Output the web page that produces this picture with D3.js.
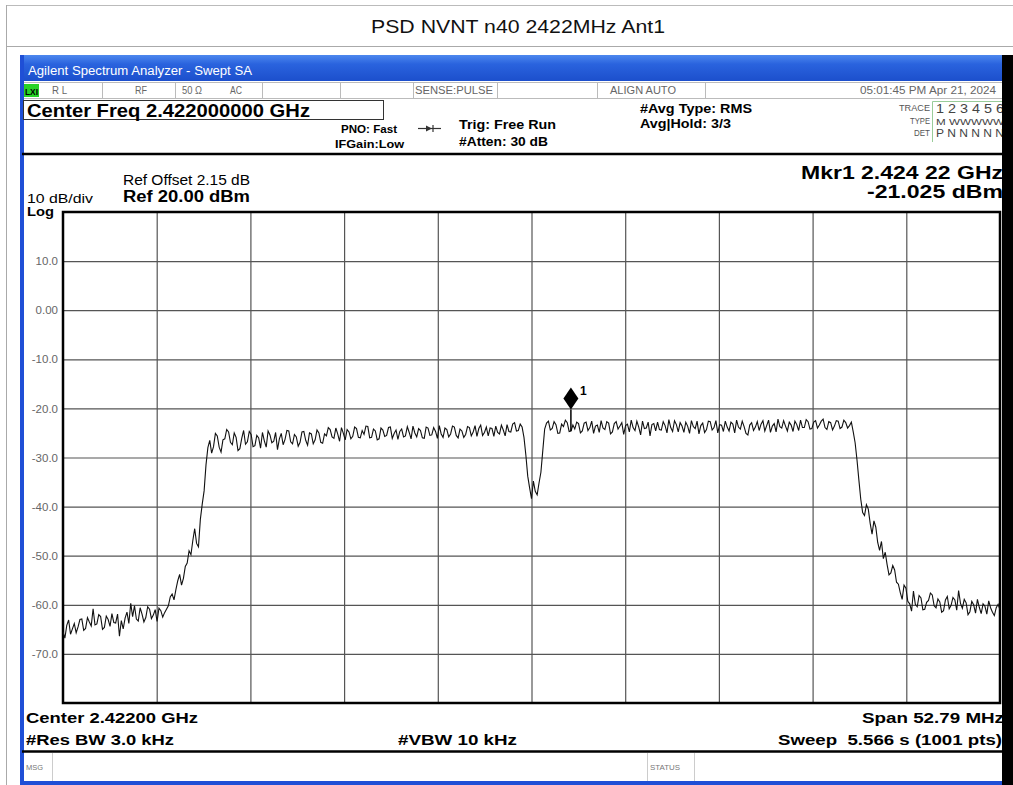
<!DOCTYPE html>
<html>
<head>
<meta charset="utf-8">
<script src="https://cdn.jsdelivr.net/npm/d3@7"></script>
<style>
body { margin: 0; background: #fff; }
svg { display: block; font-family: "Liberation Sans", Arial, sans-serif; }
text { white-space: pre; }
</style>
</head>
<body>
<script>
var W = 1013, H = 785;

//values
var chartTitle = "PSD NVNT n40 2422MHz Ant1";
var centerMHz = 2422, spanMHz = 52.79;
var refLevel = 20, dbPerDiv = 10, nDiv = 10;
var yTickValues = [10, 0, -10, -20, -30, -40, -50, -60, -70];
var yTickLabels = ["10.0", "0.00", "-10.0", "-20.0", "-30.0", "-40.0", "-50.0", "-60.0", "-70.0"];
var markerMHz = 2424.22, markerDbm = -21.025;

//trace 1, dBm, evenly spaced sweep points across the span
var psdDbm = [
  //noise floor, left
  -65.5,-66.8,-64.2,-63.1,-66.0,-64.9,-63.8,-65.7,-64.5,-63.0,-62.9,-65.2,-64.8,-62.6,-63.5,-64.3,-60.8,-64.1,-63.9,-62.0,
  -62.4,-65.0,-64.6,-62.3,-63.0,-64.4,-61.8,-63.6,-63.7,-61.9,-66.4,-63.2,-64.9,-62.7,-61.5,-63.8,-59.7,-62.4,-60.2,-62.9,
  -63.3,-60.6,-61.9,-63.5,-62.6,-60.4,-60.9,-62.8,-62.1,-61.0,-63.4,-60.7,-61.2,-62.5,-61.6,-60.9,
  //rising skirt
  -60.2,-58.4,-57.8,-59.0,-56.9,-55.1,-53.8,-56.0,-54.6,-52.2,-51.5,-49.0,-49.8,-46.9,-44.5,-47.5,-48.2,-42.6,-39.5,-36.8,
  -31.5,-28.0,-26.5,-29.1,
  //channel, lower half
  -27.8,-25.1,-25.6,-27.9,-28.9,-26.4,-26.2,-24.3,-24.8,-26.9,-27.4,-25.0,-25.9,-28.6,-28.2,-26.1,-24.5,-27.3,-26.8,-24.7,
  -25.3,-27.8,-27.6,-25.5,-26.0,-28.1,-24.9,-26.6,-27.9,-24.6,-25.4,-27.0,-26.7,-24.9,-28.4,-26.2,-25.1,-27.4,-26.3,-24.5,
  -24.6,-26.8,-27.2,-25.3,-25.8,-27.7,-26.9,-24.8,-24.7,-26.5,-27.5,-25.0,-25.2,-27.2,-26.4,-24.4,-25.0,-26.9,-27.1,-25.2,
  -25.6,-23.9,
  -24.3,-25.8,-26.1,-24.0,-25.2,-26.7,-23.9,-25.1,-26.4,-24.3,-24.8,-26.2,-25.7,-23.8,-24.1,-25.9,-26.0,-24.5,-25.3,-23.6,
  -23.7,-26.0,-25.9,-24.2,-24.6,-26.4,-26.2,-24.0,-24.4,-25.7,-25.5,-23.9,-23.8,-26.1,-25.1,-24.4,-26.3,-24.7,-24.2,-25.8,
  -25.6,-23.7,-24.9,-26.2,-23.6,-25.0,-25.8,-24.1,-24.5,-26.0,-26.1,-23.8,-24.0,-25.5,-25.4,-23.9,-24.7,-26.1,-23.5,-25.2,
  -25.9,-24.0,-24.3,-25.8,-25.2,-23.6,-23.8,-25.5,-26.0,-24.2,-24.6,-25.9,-25.3,-23.7,-23.9,-25.6,-24.8,-23.5,-25.7,-24.1,
  -23.4,-25.5,-24.9,-23.8,-25.6,-24.0,-24.1,-25.7,-23.6,-24.9,-25.2,-23.4,-24.4,-25.6,-23.3,-24.7,-24.8,-23.2,-22.9,-24.6,
  -24.5,-23.2,
  //notch at centre
  -23.8,-25.9,-29.5,-33.8,-36.2,-38.4,-34.8,-36.9,-37.6,-35.2,-33.0,-28.6,-24.2,-23.0,
  //channel, upper half
  -22.6,-24.4,-24.1,-22.7,-23.3,-25.1,-25.0,-23.2,-23.7,-22.4,-22.9,-24.7,-24.6,-23.4,-24.2,-22.8,-23.1,-25.0,-24.6,-23.0,
  -22.8,-24.5,-23.9,-22.6,-25.1,-23.6,-23.4,-24.9,-22.5,-24.0,-24.3,-22.7,-23.0,-25.2,-24.8,-23.1,-22.7,-24.2,-23.6,-22.9,
  -25.3,-23.5,-23.2,-24.8,-22.4,-23.9,-24.5,-22.6,-23.8,-25.4,-22.6,-24.1,-24.0,-22.8,-25.6,-23.3,-23.1,-24.6,-22.8,-24.3,
  -24.4,-22.7,-23.5,-25.0,-22.3,-23.9,-24.7,-22.5,-23.3,-24.8,-22.9,-23.6,-24.9,-22.8,-23.6,-25.1,-22.5,-23.7,-24.1,-22.6,
  -25.2,-23.5,-23.0,-24.9,-24.3,-22.6,-22.7,-24.4,-23.9,-22.5,-25.0,-23.3,-23.4,-24.7,-22.6,-23.8,-24.6,-22.8,-23.2,-25.0,
  -22.4,-23.8,-24.2,-22.6,-23.7,-25.1,-25.4,-23.4,-22.9,-24.5,-23.8,-22.7,-24.5,-23.2,-22.5,-24.6,-23.5,-22.4,-24.9,-23.6,
  -23.1,-24.8,-22.2,-23.7,-24.0,-22.5,-23.6,-24.6,-22.8,-23.4,-24.7,-22.6,-23.3,-24.5,-22.4,-23.9,-23.9,-22.3,-22.7,-24.2,
  -24.1,-22.8,-22.5,-24.0,-23.4,-22.6,-22.2,-23.9,-24.3,-22.7,-22.9,-24.4,-23.6,-22.5,-22.6,-24.1,-23.8,-22.4,-22.9,-24.0,
  //falling skirt
  -23.5,-22.8,-24.8,-27.0,-30.5,-34.6,-38.5,-41.2,-41.8,-39.6,-40.5,-43.4,-45.6,-42.9,-44.2,-47.3,-48.9,-47.1,-50.6,-49.3,
  -51.8,-53.9,-53.5,-52.0,-52.9,-55.4,-55.8,-57.5,-58.9,-56.0,-56.6,-59.3,
  //noise floor, right
  -59.8,-61.3,-57.2,-59.9,-60.4,-58.1,-58.6,-61.0,-60.9,-59.5,-59.1,-57.6,-58.0,-60.2,-60.6,-58.8,-59.4,-61.5,-61.2,-59.0,
  -58.3,-60.8,-60.1,-58.5,-59.0,-61.1,-57.1,-59.7,-60.7,-58.9,-59.6,-62.0,-61.4,-59.3,-60.0,-61.7,-58.9,-60.5,-61.8,-59.8,
  -60.3,-61.9,-59.2,-60.6,-61.5,-62.2,-60.6,-59.9,-61.0
];

var plot = {left: 63, top: 212, right: 1000, bottom: 703};
var fStart = centerMHz - spanMHz / 2, fStop = centerMHz + spanMHz / 2;

var xScale = d3.scaleLinear()
               .domain([fStart, fStop])
               .range([plot.left, plot.right]);

var yScale = d3.scaleLinear()
               .domain([refLevel - dbPerDiv * nDiv, refLevel])
               .range([plot.bottom, plot.top]);

var step = spanMHz / (psdDbm.length - 1);
var trace = psdDbm.map(function(v, i){ return [fStart + i * step, v]; });

var svg = d3.select("body").append("svg")
            .attr("width", W)
            .attr("height", H);

var defs = svg.append("defs");
var grad = defs.append("linearGradient").attr("id", "bar").attr("x1", 0).attr("y1", 0).attr("x2", 0).attr("y2", 1);
grad.append("stop").attr("offset", "0%").attr("stop-color", "#4d88ee");
grad.append("stop").attr("offset", "35%").attr("stop-color", "#2a63de");
grad.append("stop").attr("offset", "100%").attr("stop-color", "#1c4fcc");
defs.append("clipPath").attr("id", "plotClip")
    .append("rect")
    .attr("x", plot.left).attr("y", plot.top)
    .attr("width", plot.right - plot.left).attr("height", plot.bottom - plot.top);

//small text helper, textLength keeps the stretched look of the screenshot
function label(x, y, s, o){
    o = o || {};
    var t = svg.append("text")
               .attr("x", x).attr("y", y)
               .attr("font-size", o.size || 12)
               .attr("font-weight", o.bold ? "bold" : "normal")
               .attr("fill", o.fill || "#000")
               .attr("text-anchor", o.anchor || "start")
               .text(s);
    if(o.len){
        t.attr("textLength", o.len).attr("lengthAdjust", "spacingAndGlyphs");
    }
    return t;
}

function hline(x1, x2, y, color, w){
    svg.append("line").attr("x1", x1).attr("x2", x2).attr("y1", y).attr("y2", y)
       .attr("stroke", color).attr("stroke-width", w || 1);
}
function vline(x, y1, y2, color, w){
    svg.append("line").attr("x1", x).attr("x2", x).attr("y1", y1).attr("y2", y2)
       .attr("stroke", color).attr("stroke-width", w || 1);
}

//outer page frame and title
hline(6, W, 5.5, "#bbb");
hline(6, W, 46.5, "#aaa");
vline(6.5, 5, H, "#aaa");
label(518, 33, chartTitle, {size: 19, anchor: "middle", len: 294, fill: "#111"});

//analyzer window chrome
svg.append("rect").attr("x", 20).attr("y", 55).attr("width", 982).attr("height", 26).attr("fill", "url(#bar)");
label(28, 75, "Agilent Spectrum Analyzer - Swept SA", {size: 12, fill: "#fff", len: 224});
svg.append("rect").attr("x", 20).attr("y", 55).attr("width", 4).attr("height", H - 55).attr("fill", "#1f4fd6");

//status row
hline(24, 1002, 82.5, "#bbb");
hline(24, 1002, 98.5, "#bbb");
[102, 175, 262, 340, 413, 497, 597, 705].forEach(function(x){ vline(x + 0.5, 83, 98, "#bbb"); });
svg.append("rect").attr("x", 24).attr("y", 84).attr("width", 15).attr("height", 13).attr("fill", "#27d227");
label(25, 95, "LXI", {size: 9, bold: true, len: 13});
var stat = {size: 10, fill: "#666"};
label(52, 94, "R L", Object.assign({len: 15}, stat));
label(135, 94, "RF", Object.assign({len: 12}, stat));
label(182, 94, "50 Ω", Object.assign({len: 20}, stat));
label(230, 94, "AC", Object.assign({len: 12}, stat));
label(415, 94, "SENSE:PULSE", Object.assign({len: 78}, stat));
label(610, 94, "ALIGN AUTO", Object.assign({len: 66}, stat));
label(996, 94, "05:01:45 PM Apr 21, 2024", Object.assign({len: 136, anchor: "end"}, stat));

//settings area
svg.append("rect").attr("x", 23.5).attr("y", 100.5).attr("width", 360).attr("height", 19)
   .attr("fill", "#fff").attr("stroke", "#333");
label(27, 117, "Center Freq 2.422000000 GHz", {size: 18, bold: true, len: 283});
label(341, 133, "PNO: Fast", {size: 11, bold: true, len: 56});
label(335, 148, "IFGain:Low", {size: 11, bold: true, len: 69});
hline(418, 441, 128.5, "#333", 1.2);
svg.append("path").attr("d", "M426,125.5 L432,128.5 L426,131.5 Z").attr("fill", "#333");
vline(433, 125, 132, "#333", 1.2);
label(459, 129, "Trig: Free Run", {size: 13, bold: true, len: 97});
label(459, 146, "#Atten: 30 dB", {size: 12, bold: true, len: 89});
label(640, 113, "#Avg Type: RMS", {size: 12, bold: true, len: 112});
label(640, 128, "Avg|Hold: 3/3", {size: 12, bold: true, len: 91});

svg.append("path").attr("d", "M1002,101.5 H932.5 V142").attr("fill", "none").attr("stroke", "#9c9").attr("stroke-width", 1);
var tr = {size: 9, fill: "#555", anchor: "end"};
label(930, 111, "TRACE", Object.assign({len: 31}, tr));
label(930, 124, "TYPE", Object.assign({len: 20}, tr));
label(930, 136, "DET", Object.assign({len: 16}, tr));
label(936, 113, "1 2 3 4 5 6", {size: 12, fill: "#444", len: 68});
label(936, 125, "M WWWWW", {size: 9, fill: "#444", len: 68});
label(936, 137, "P N N N N N", {size: 11, fill: "#444", len: 68});

hline(22, 1002, 154, "#000", 2.5);

//readouts above the graticule
label(123, 185, "Ref Offset 2.15 dB", {size: 14, len: 127});
label(123, 202, "Ref 20.00 dBm", {size: 16, bold: true, len: 127});
label(27, 203, "10 dB/div", {size: 13, len: 66});
label(27, 216, "Log", {size: 13, bold: true, len: 27});
label(1003, 179, "Mkr1 2.424 22 GHz", {size: 18, bold: true, anchor: "end", len: 202});
label(1003, 198, "-21.025 dBm", {size: 18, bold: true, anchor: "end", len: 136});

//graticule via d3 axes
var xGridValues = d3.range(nDiv + 1).map(function(i){ return fStart + i * spanMHz / nDiv; });

var xAxis = d3.axisBottom(xScale)
              .tickValues(xGridValues.slice(1, -1))
              .tickSize(-(plot.bottom - plot.top))
              .tickFormat("");

var yAxis = d3.axisLeft(yScale)
              .tickValues(yTickValues)
              .tickSizeInner(-(plot.right - plot.left))
              .tickSizeOuter(0)
              .tickPadding(5)
              .tickFormat(function(d, i){ return yTickLabels[i]; });

var gx = svg.append("g")
            .attr("transform", "translate(0," + plot.bottom + ")")
            .call(xAxis);
gx.select(".domain").remove();
gx.selectAll(".tick line").attr("stroke", "#555").attr("stroke-width", 1.2);

var gy = svg.append("g")
            .attr("transform", "translate(" + plot.left + ",0)")
            .call(yAxis);
gy.select(".domain").remove();
gy.selectAll(".tick line").attr("stroke", "#555").attr("stroke-width", 1.2);
gy.selectAll(".tick text")
  .attr("font-family", "Liberation Sans, Arial, sans-serif")
  .attr("font-size", 11.5)
  .attr("fill", "#666");

svg.append("rect")
   .attr("x", plot.left).attr("y", plot.top)
   .attr("width", plot.right - plot.left).attr("height", plot.bottom - plot.top)
   .attr("fill", "none").attr("stroke", "#000").attr("stroke-width", 2.5);

//trace
var line = d3.line()
             .x(function(d){ return xScale(d[0]); })
             .y(function(d){ return yScale(d[1]); });

svg.append("path")
   .datum(trace)
   .attr("clip-path", "url(#plotClip)")
   .attr("d", line)
   .attr("fill", "none")
   .attr("stroke", "#111")
   .attr("stroke-width", 1.1)
   .attr("stroke-linejoin", "miter");

//marker 1
var mi = Math.round((markerMHz - fStart) / step);
var mx = xScale(markerMHz);
var my = yScale(markerDbm) - 4;
svg.append("line")
   .attr("x1", mx).attr("x2", mx)
   .attr("y1", my).attr("y2", yScale(psdDbm[mi]))
   .attr("stroke", "#000").attr("stroke-width", 1.5);
svg.append("path")
   .attr("d", "M" + mx + "," + my + " L" + (mx - 7.5) + "," + (my - 11) + " L" + mx + "," + (my - 22) + " L" + (mx + 7.5) + "," + (my - 11) + " Z")
   .attr("fill", "#000");
label(mx + 9, my - 14, "1", {size: 12, bold: true});

//bottom readouts
label(26, 723, "Center 2.42200 GHz", {size: 15, bold: true, len: 172});
label(26, 745, "#Res BW 3.0 kHz", {size: 15, bold: true, len: 148});
label(398, 745, "#VBW 10 kHz", {size: 15, bold: true, len: 119});
label(1004, 723, "Span 52.79 MHz", {size: 15, bold: true, anchor: "end", len: 142});
label(1002, 745, "Sweep  5.566 s (1001 pts)", {size: 15, bold: true, anchor: "end", len: 224});

hline(22, 1002, 751.5, "#000", 2.5);
vline(52.5, 753, 781, "#ccc");
vline(647.5, 753, 781, "#ccc");
vline(694.5, 753, 781, "#ccc");
label(26, 770, "MSG", {size: 8, fill: "#777", len: 17});
label(650, 770, "STATUS", {size: 8, fill: "#777", len: 30});
svg.append("rect").attr("x", 20).attr("y", 781).attr("width", 982).attr("height", 4).attr("fill", "#1f4fd6");

//right edge of the screenshot is a black band
svg.append("rect").attr("x", 1002).attr("y", 55).attr("width", W - 1002).attr("height", H - 55).attr("fill", "#000");
</script>
</body>
</html>
